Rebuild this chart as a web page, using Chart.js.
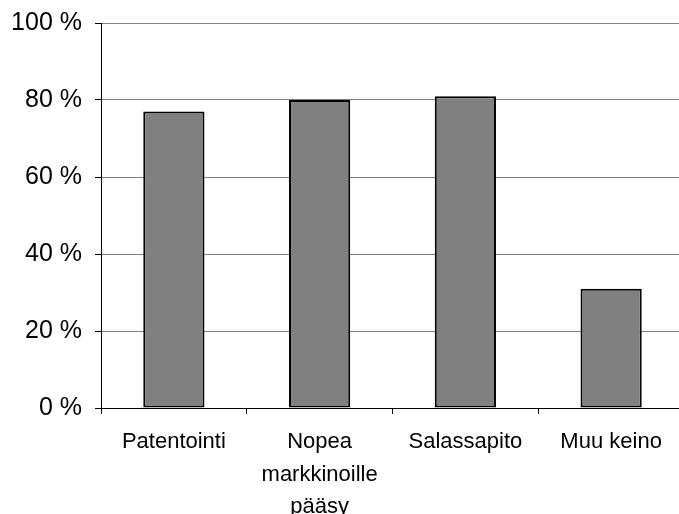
<!DOCTYPE html>
<html>
<head>
<meta charset="utf-8">
<script src="https://cdn.jsdelivr.net/npm/chart.js@4.4.0/dist/chart.umd.min.js"></script>
<style>
html,body{margin:0;padding:0;background:#fff;overflow:hidden;}
#wrap{position:absolute;left:0;top:0;width:685px;height:514px;}
</style>
</head>
<body>
<div id="wrap"><canvas id="c"></canvas></div>
<script>
const categories = [["Patentointi"], ["Nopea", "markkinoille", "pääsy"], ["Salassapito"], ["Muu keino"]];
const values = [77, 80, 81, 31];
const yTicks = [0, 20, 40, 60, 80, 100];

const FONT = '"Liberation Sans", Arial, sans-serif';

new Chart(document.getElementById('c'), {
  type: 'bar',
  data: {
    labels: categories,
    datasets: [{
      data: values,
      backgroundColor: '#808080',
      borderColor: '#000000',
      borderWidth: 2,
      borderSkipped: false,
      categoryPercentage: 1,
      barPercentage: 0.42
    }]
  },
  options: {
    responsive: true,
    maintainAspectRatio: false,
    animation: false,
    devicePixelRatio: 1,
    layout: { padding: { top: 23, right: 1, bottom: 0, left: 0 } },
    plugins: { legend: { display: false }, tooltip: { enabled: false } },
    scales: {
      x: {
        offset: true,
        grid: { offset: true, drawOnChartArea: false, tickLength: 6, color: '#000', tickColor: '#000' },
        border: { color: '#000', width: 1 },
        ticks: { color: '#000', font: { family: FONT, size: 22, lineHeight: 1.47 }, padding: 12, maxRotation: 0, autoSkip: false },
        afterFit: s => { s.height = 106; s.paddingLeft = 0; s.paddingRight = 0; }
      },
      y: {
        min: 0, max: 100,
        afterBuildTicks: s => { s.ticks = yTicks.map(v => ({ value: v })); },
        grid: { color: '#808080', tickLength: 6, tickColor: '#000', lineWidth: 1 },
        border: { color: '#000', width: 1 },
        ticks: { color: '#000', font: { family: FONT, size: 25 }, padding: 13, callback: v => v + ' %' },
        afterFit: s => { s.width = 101; s.paddingTop = 0; s.paddingBottom = 0; }
      }
    }
  }
});
</script>
</body>
</html>
